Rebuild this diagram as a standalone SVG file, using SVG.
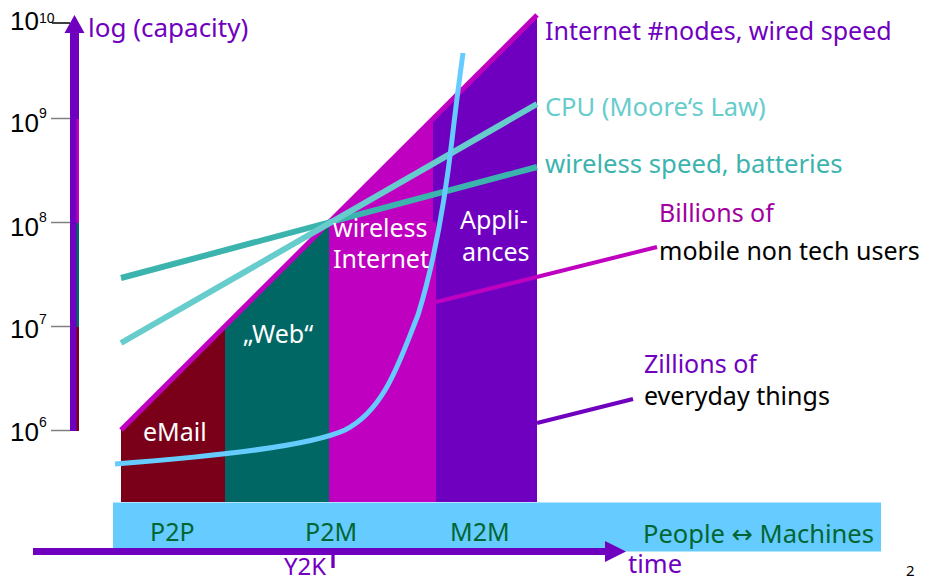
<svg xmlns="http://www.w3.org/2000/svg" width="928" height="579" viewBox="0 0 928 579">
<style>
.t{font-family:"Noto Sans","DejaVu Sans",sans-serif;font-size:25px}
.n{font-family:"Liberation Sans",Arial,sans-serif;font-size:26px;fill:#000}
.s{font-size:14px}
.w{fill:#fff}
.pu{fill:#7000C0}
.g{fill:#006633}
.tick{stroke:#808080;stroke-width:1.5}
</style>
<rect width="928" height="579" fill="#fff"/>
<g id="regions">
<polygon id="email-region" points="121,430 225,326 225,502 121,502" fill="#7A0019"/>
<polygon id="web-region" points="225,326 329,222 329,502 225,502" fill="#006765"/>
<polygon id="wireless-region" points="329,222 436,115 436,502 329,502" fill="#C000C0"/>
<polygon id="appliances-region" points="436,115 537,15 537,502 436,502" fill="#7000C0"/>
<rect x="433" y="118" width="4" height="104" fill="#7000C0"/>
</g>
<g id="band">
<rect x="113" y="502.5" width="768" height="49" fill="#66CCFF"/>
</g>
<g id="y-axis">
<rect x="70" y="30" width="9" height="90" fill="#7000C0"/>
<rect x="70" y="119" width="7" height="312" fill="#7000C0"/>
<rect x="76.5" y="119" width="2.5" height="104" fill="#C000C0"/>
<rect x="76.5" y="223" width="2.5" height="104" fill="#006765"/>
<rect x="76.5" y="327" width="2.5" height="104" fill="#7A0019"/>
<polygon points="64.5,33 74.5,15 84.5,33" fill="#7000C0"/>
<line x1="52" y1="23" x2="70" y2="23" stroke="#000" stroke-width="1.5"/>
<line class="tick" x1="51" y1="118.5" x2="70" y2="118.5"/>
<line class="tick" x1="51" y1="222.5" x2="70" y2="222.5"/>
<line class="tick" x1="51" y1="326.5" x2="70" y2="326.5"/>
<line class="tick" x1="51" y1="430.5" x2="70" y2="430.5"/>
<text class="n" x="10" y="30">10<tspan class="s" dy="-7">10</tspan></text>
<text class="n" x="10" y="132">10<tspan class="s" dy="-14">9</tspan></text>
<text class="n" x="10" y="236">10<tspan class="s" dy="-14">8</tspan></text>
<text class="n" x="10" y="338">10<tspan class="s" dy="-14">7</tspan></text>
<text class="n" x="10" y="441">10<tspan class="s" dy="-14">6</tspan></text>
<text class="t pu" x="88" y="37" style="font-size:26px">log (capacity)</text>
</g>
<g id="x-axis">
<line x1="33" y1="551.5" x2="608" y2="551.5" stroke="#7000C0" stroke-width="7"/>
<polygon points="605,541 626,551.5 605,562" fill="#7000C0"/>
<line x1="333" y1="555" x2="333" y2="568" stroke="#7000C0" stroke-width="3.3"/>
<text class="t pu" x="628" y="573" style="font-size:25.5px">time</text>
<text class="t pu" x="284" y="575" style="font-size:24px">Y2K</text>
</g>
<g id="connectors" fill="none">
<line id="internet-line" x1="121" y1="430" x2="537" y2="15" stroke="#C000C0" stroke-width="5"/>
<line id="wireless-line" x1="121" y1="278" x2="537" y2="167" stroke="#3CB4AE" stroke-width="6"/>
<line id="cpu-line" x1="121" y1="343" x2="537" y2="104" stroke="#66CCCC" stroke-width="6"/>
<path id="curve" d="M115,464 C220,456 310,446 345,430 C385,410 400,360 418,315 C435,260 445,200 452,140 C456,105 460,75 463,53" stroke="#66CCFF" stroke-width="5"/>
<line id="billions-pointer" x1="436" y1="302" x2="657" y2="247" stroke="#C000C0" stroke-width="4"/>
<line id="zillions-pointer" x1="537" y1="423" x2="633" y2="399" stroke="#7000C0" stroke-width="4"/>
</g>
<g id="region-labels">
<text class="t w" x="143" y="441">eMail</text>
<text class="t w" x="243" y="343">„Web“</text>
<text class="t w" x="333" y="237">wireless</text>
<text class="t w" x="333" y="268">Internet</text>
<text class="t w" x="460" y="229">Appli-</text>
<text class="t w" x="462" y="261">ances</text>
</g>
<g id="band-labels">
<text class="t g" x="150" y="541">P2P</text>
<text class="t g" x="305" y="541">P2M</text>
<text class="t g" x="450" y="541">M2M</text>
<text class="t g" x="643" y="543" style="font-size:25.5px">People ↔ Machines</text>
</g>
<g id="right-labels">
<text class="t pu" x="545" y="40">Internet #nodes, wired speed</text>
<text class="t" x="545" y="116" fill="#66CCCC" style="font-size:25.5px">CPU (Moore‘s Law)</text>
<text class="t" x="545" y="173" fill="#3CB4AE" style="font-size:25.7px">wireless speed, batteries</text>
<text class="t" x="659" y="222" fill="#A000A0">Billions of</text>
<text class="t" x="659" y="260" fill="#000">mobile non tech users</text>
<text class="t pu" x="644" y="373">Zillions of</text>
<text class="t" x="644" y="405" fill="#000">everyday things</text>
</g>
<text x="906" y="576" style="font-family:'Noto Sans',sans-serif;font-size:15px" fill="#000">2</text>
</svg>
